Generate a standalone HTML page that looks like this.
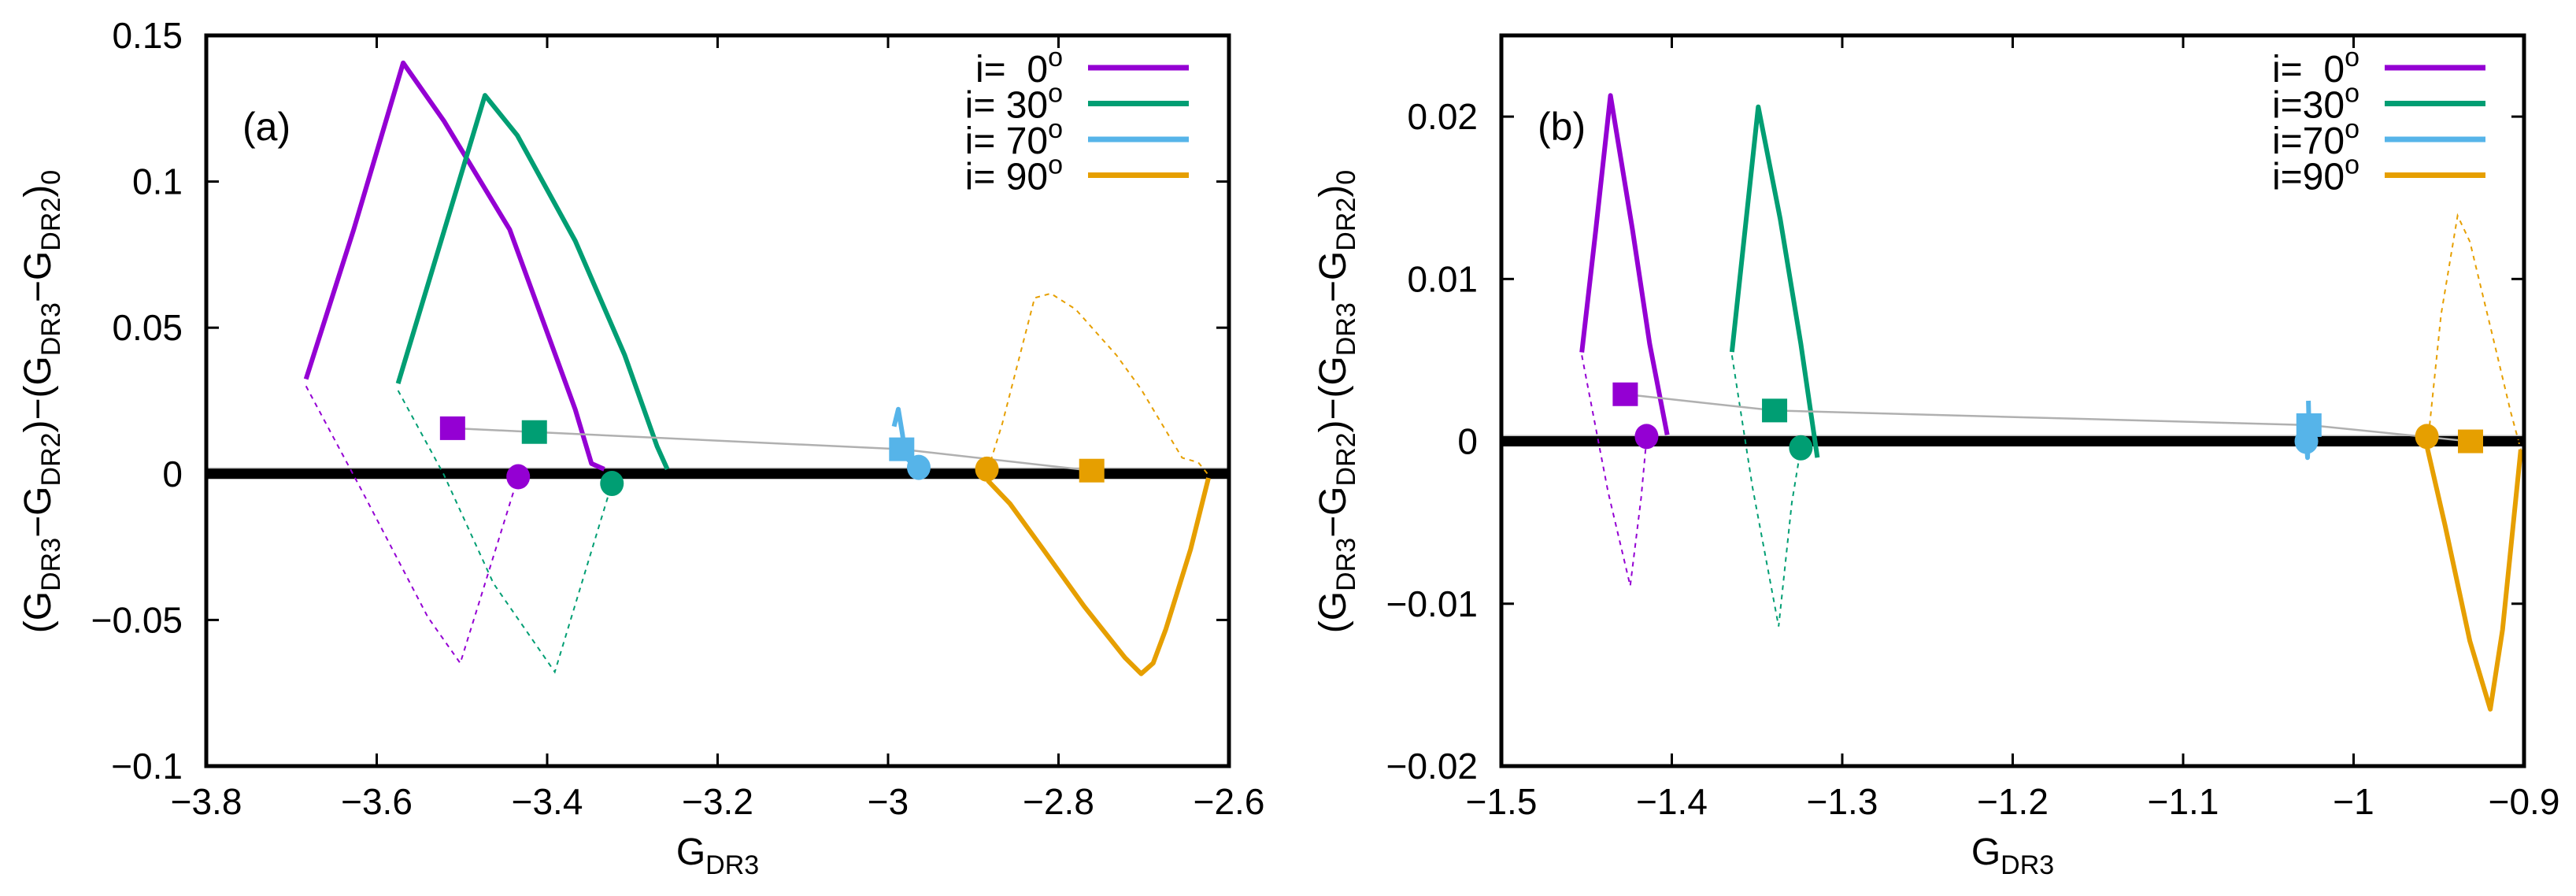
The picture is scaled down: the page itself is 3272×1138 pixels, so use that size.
<!DOCTYPE html>
<html><head><meta charset="utf-8"><style>
html,body{margin:0;padding:0;background:#fff}
svg{display:block}
text{font-family:"Liberation Sans",sans-serif;fill:#000;white-space:pre}
</style></head><body>
<svg id="chart" width="3272" height="1138" xmlns="http://www.w3.org/2000/svg"></svg>
<script>
// ---- Panel (a) data ----
const aPurpleSolidX=[-3.683,-3.627,-3.569,-3.521,-3.444,-3.367,-3.348,-3.333];
const aPurpleSolidY=[0.0324,0.0836,0.1406,0.1207,0.0836,0.022,0.0035,0.0016];
const aPurpleDotX=[-3.683,-3.617,-3.54,-3.502,-3.434];
const aPurpleDotY=[0.030,-0.006,-0.049,-0.0648,-0.001];
const aGreenSolidX=[-3.575,-3.473,-3.435,-3.367,-3.309,-3.271,-3.259];
const aGreenSolidY=[0.0309,0.1295,0.1158,0.0797,0.0406,0.0094,0.0016];
const aGreenDotX=[-3.575,-3.521,-3.463,-3.391,-3.324];
const aGreenDotY=[0.0285,-0.0004,-0.0375,-0.0678,-0.0033];
const aBlueX=[-2.993,-2.988,-2.983,-2.98,-2.967];
const aBlueY=[0.0162,0.0221,0.0133,0.006,0.002];
const aOrangeDotX=[-2.883,-2.866,-2.828,-2.809,-2.78,-2.732,-2.703,-2.655,-2.636,-2.624];
const aOrangeDotY=[0.0012,0.0172,0.0602,0.0617,0.0563,0.0406,0.0289,0.0055,0.0039,-0.0004];
const aOrangeSolidX=[-2.883,-2.857,-2.818,-2.77,-2.722,-2.703,-2.689,-2.674,-2.645,-2.624];
const aOrangeSolidY=[-0.0023,-0.0102,-0.0258,-0.0453,-0.0629,-0.0684,-0.0648,-0.0531,-0.0258,-0.0014];
const aSquareX=[-3.511,-3.415,-2.984,-2.761];
const aSquareY=[0.0156,0.0143,0.0084,0.0011];
const aCircleX=[-3.434,-3.324,-2.964,-2.884];
const aCircleY=[-0.001,-0.0033,0.0022,0.0016];
const aXTicks=[-3.8,-3.6,-3.4,-3.2,-3,-2.8,-2.6];
const aXTickLabels=["\u22123.8","\u22123.6","\u22123.4","\u22123.2","\u22123","\u22122.8","\u22122.6"];
const aYTicks=[-0.1,-0.05,0,0.05,0.1,0.15];
const aYTickLabels=["\u22120.1","\u22120.05","0","0.05","0.1","0.15"];
const aLegend=["i=  0","i= 30","i= 70","i= 90"];
// ---- Panel (b) data ----
const bPurpleSolidX=[-1.4528,-1.4446,-1.436,-1.423,-1.413,-1.4027];
const bPurpleSolidY=[0.00548,0.013,0.0213,0.013,0.006,0.0004];
const bPurpleDotX=[-1.4528,-1.4374,-1.4244,-1.418,-1.4148];
const bPurpleDotY=[0.0053,-0.0031,-0.0089,-0.0035,0.0002];
const bGreenSolidX=[-1.3647,-1.3493,-1.3364,-1.3243,-1.3146];
const bGreenSolidY=[0.0055,0.0206,0.0137,0.006,-0.001];
const bGreenDotX=[-1.3647,-1.3527,-1.3373,-1.3296,-1.3243];
const bGreenDotY=[0.0053,-0.0028,-0.0114,-0.0038,-0.0004];
const bBlueX=[-1.0265,-1.0262,-1.027,-1.0277];
const bBlueY=[0.0025,0.001,-0.001,0.0];
const bOrangeDotX=[-0.956,-0.9487,-0.939,-0.9318,-0.9173,-0.9078,-0.9019];
const bOrangeDotY=[0.0004,0.0078,0.0139,0.0123,0.006,0.0018,-0.0005];
const bOrangeSolidX=[-0.957,-0.9463,-0.9318,-0.9198,-0.9126,-0.9019];
const bOrangeSolidY=[-0.0003,-0.0052,-0.0123,-0.0165,-0.0116,-0.0005];
const bSquareX=[-1.4273,-1.3397,-1.0262,-0.9314];
const bSquareY=[0.0029,0.0019,0.001,0.0];
const bCircleX=[-1.4148,-1.3243,-1.0277,-0.957];
const bCircleY=[0.0003,-0.0004,0.0,0.0003];
const bXTicks=[-1.5,-1.4,-1.3,-1.2,-1.1,-1,-0.9];
const bXTickLabels=["\u22121.5","\u22121.4","\u22121.3","\u22121.2","\u22121.1","\u22121","\u22120.9"];
const bYTicks=[-0.02,-0.01,0,0.01,0.02];
const bYTickLabels=["\u22120.02","\u22120.01","0","0.01","0.02"];
const bLegend=["i=  0","i=30","i=70","i=90"];

const COLORS=["#9400d3","#009e73","#56b4e9","#e69f00"];
const NS="http://www.w3.org/2000/svg";
const svg=document.getElementById("chart");
function mk(tag,attrs,parent){const e=document.createElementNS(NS,tag);for(const k in attrs)e.setAttribute(k,attrs[k]);(parent||svg).appendChild(e);return e;}

function panel(cfg){
  const g=mk("g",{});
  
  
  const L=cfg.L,R=cfg.R,T=45,B=973;
  const sx=v=>L+(v-cfg.x0)/(cfg.x1-cfg.x0)*(R-L);
  const sy=v=>B-(v-cfg.y0)/(cfg.y1-cfg.y0)*(B-T);
  const pts=(xs,ys)=>xs.map((x,i)=>sx(x).toFixed(1)+","+sy(ys[i]).toFixed(1)).join(" ");
  const z1=mk("line",{x1:L,x2:R,y1:sy(0)-7,y2:sy(0)-7,stroke:"#bbb","stroke-width":2},g);
  
  
  const z=mk("line",{x1:L,x2:R,y1:sy(0),y2:sy(0),stroke:"#000","stroke-width":13},g);
  
  
  cfg.dots.forEach((s,i)=>{
    const p=mk("polyline",{points:pts(s[0],s[1]),fill:"none",stroke:s[2],"stroke-width":2,"stroke-dasharray":"6,6"},g);
    
    
  });
  cfg.solids.forEach((s,i)=>{
    const p=mk("polyline",{points:pts(s[0],s[1]),fill:"none",stroke:s[2],"stroke-width":6,"stroke-linejoin":"round"},g);
    
    
  });
  const gl=mk("polyline",{points:pts(cfg.sqX,cfg.sqY),fill:"none",stroke:"#b0b0b0","stroke-width":2.5},g);
  
  
  cfg.sqX.forEach((x,i)=>{
    const r=mk("rect",{x:sx(x)-16,y:sy(cfg.sqY[i])-15,width:32,height:30,fill:COLORS[i]},g);
    
    
  });
  cfg.ciX.forEach((x,i)=>{
    const c=mk("ellipse",{cx:sx(x),cy:sy(cfg.ciY[i]),rx:15,ry:16,fill:COLORS[i]},g);
    
    
  });
  const f=mk("rect",{x:L,y:T,width:R-L,height:B-T,fill:"none",stroke:"#000","stroke-width":5},g);
  
  
  cfg.xt.forEach((v,i)=>{
    const x=sx(v);
    mk("line",{x1:x,x2:x,y1:B,y2:B-16,stroke:"#000","stroke-width":3},g);
    mk("line",{x1:x,x2:x,y1:T,y2:T+16,stroke:"#000","stroke-width":3},g);
    const t=mk("text",{x:x,y:1034,"font-size":46,"text-anchor":"middle"},g);
    t.textContent=cfg.xl[i];
    
    
  });
  cfg.yt.forEach((v,i)=>{
    const y=sy(v);
    mk("line",{x1:L,x2:L+16,y1:y,y2:y,stroke:"#000","stroke-width":3},g);
    mk("line",{x1:R,x2:R-16,y1:y,y2:y,stroke:"#000","stroke-width":3},g);
    const t=mk("text",{x:L-30,y:y+16,"font-size":46,"text-anchor":"end"},g);
    t.textContent=cfg.yl[i];
    
    
  });
  cfg.leg.forEach((s,i)=>{
    const y=86+i*45.5;
    const t=mk("text",{x:cfg.legX,y:y+18,"font-size":48,"text-anchor":"end"},g);
    t.textContent=s;
    const sup=mk("tspan",{dy:-20,"font-size":34},t);sup.textContent="o";
    
    
    const l=mk("line",{x1:cfg.legX+32,x2:cfg.legX+160,y1:y,y2:y,stroke:COLORS[i],"stroke-width":7},g);
    
    
  });
  const pl=mk("text",{x:L+46,y:178,"font-size":50},g);
  pl.textContent=cfg.tag;
  
  
  const xt=mk("text",{x:(L+R)/2,y:1098,"font-size":48,"text-anchor":"middle"},g);
  xt.innerHTML='G<tspan dy="12" font-size="34">DR3</tspan>';
  
  
  const yt=mk("text",{x:0,y:0,"font-size":48,"text-anchor":"middle",transform:"translate("+(cfg.L-198)+",510) rotate(-90)"},g);
  yt.innerHTML='(G<tspan dy="12" font-size="34">DR3</tspan><tspan dy="-12">\u2212G</tspan><tspan dy="12" font-size="34">DR2</tspan><tspan dy="-12">)\u2212(G</tspan><tspan dy="12" font-size="34">DR3</tspan><tspan dy="-12">\u2212G</tspan><tspan dy="12" font-size="34">DR2</tspan><tspan dy="-12">)</tspan><tspan dy="12" font-size="34">0</tspan>';
  
  
}

panel({name:"panel-a",tag:"(a)",L:262,R:1561,x0:-3.8,x1:-2.6,y0:-0.1,y1:0.15,
  dots:[[aPurpleDotX,aPurpleDotY,COLORS[0]],[aGreenDotX,aGreenDotY,COLORS[1]],[aOrangeDotX,aOrangeDotY,COLORS[3]]],
  solids:[[aPurpleSolidX,aPurpleSolidY,COLORS[0]],[aGreenSolidX,aGreenSolidY,COLORS[1]],[aBlueX,aBlueY,COLORS[2]],[aOrangeSolidX,aOrangeSolidY,COLORS[3]]],
  sqX:aSquareX,sqY:aSquareY,ciX:aCircleX,ciY:aCircleY,
  xt:aXTicks,xl:aXTickLabels,yt:aYTicks,yl:aYTickLabels,leg:aLegend,legX:1350});
panel({name:"panel-b",tag:"(b)",L:1907,R:3206,x0:-1.5,x1:-0.9,y0:-0.02,y1:0.025,
  dots:[[bPurpleDotX,bPurpleDotY,COLORS[0]],[bGreenDotX,bGreenDotY,COLORS[1]],[bOrangeDotX,bOrangeDotY,COLORS[3]]],
  solids:[[bPurpleSolidX,bPurpleSolidY,COLORS[0]],[bGreenSolidX,bGreenSolidY,COLORS[1]],[bBlueX,bBlueY,COLORS[2]],[bOrangeSolidX,bOrangeSolidY,COLORS[3]]],
  sqX:bSquareX,sqY:bSquareY,ciX:bCircleX,ciY:bCircleY,
  xt:bXTicks,xl:bXTickLabels,yt:bYTicks,yl:bYTickLabels,leg:bLegend,legX:2997});
</script>
</body></html>
